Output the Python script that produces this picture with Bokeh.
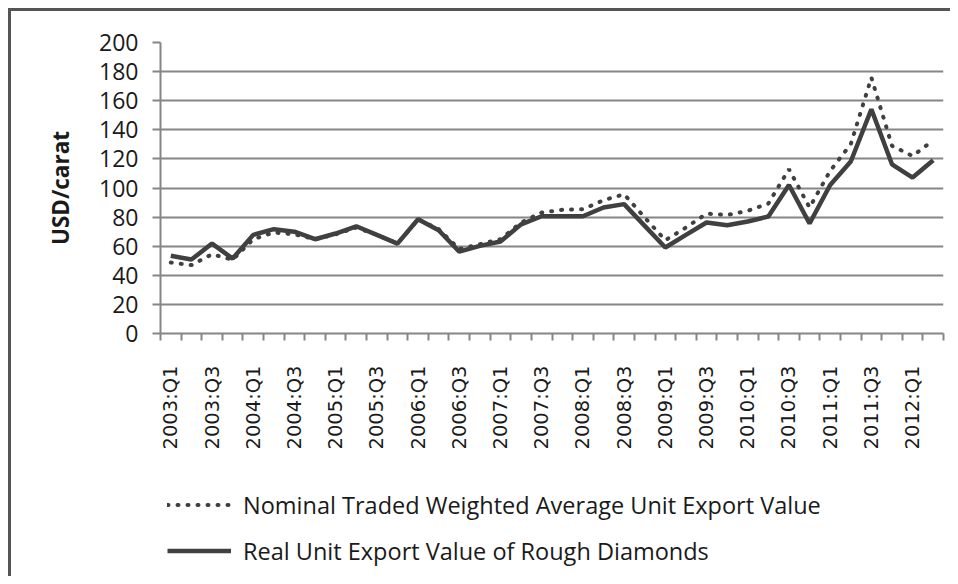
from bokeh.plotting import figure
from bokeh.layouts import column
from bokeh.models import Range1d, FixedTicker, Legend, LegendItem
from bokeh.embed import file_html
from bokeh.resources import INLINE

quarters = ["2003:Q1", "2003:Q2", "2003:Q3", "2003:Q4",
            "2004:Q1", "2004:Q2", "2004:Q3", "2004:Q4",
            "2005:Q1", "2005:Q2", "2005:Q3", "2005:Q4",
            "2006:Q1", "2006:Q2", "2006:Q3", "2006:Q4",
            "2007:Q1", "2007:Q2", "2007:Q3", "2007:Q4",
            "2008:Q1", "2008:Q2", "2008:Q3", "2008:Q4",
            "2009:Q1", "2009:Q2", "2009:Q3", "2009:Q4",
            "2010:Q1", "2010:Q2", "2010:Q3", "2010:Q4",
            "2011:Q1", "2011:Q2", "2011:Q3", "2011:Q4",
            "2012:Q1", "2012:Q2"]

nominal = [48.8, 47.0, 54.5, 50.6, 64.8, 69.4, 68.2, 64.8, 68.2, 72.8,
           67.8, 61.8, 78.5, 71.7, 58.0, 61.4, 64.8, 76.3, 83.1, 85.0,
           85.4, 91.6, 95.7, 79.7, 64.1, 72.8, 82.4, 81.5, 84.3, 89.3,
           112.9, 86.6, 111.8, 130.1, 175.9, 129.0, 122.0, 132.8]

real = [53.4, 50.8, 61.8, 51.5, 67.8, 71.7, 70.0, 64.8, 68.7, 73.7,
        67.8, 61.8, 78.5, 71.0, 56.3, 60.2, 63.2, 75.0, 80.6, 80.6,
        80.6, 86.6, 88.9, 74.0, 59.1, 67.8, 76.3, 74.4, 77.0, 80.4,
        102.1, 75.6, 102.1, 118.2, 154.1, 116.3, 107.2, 119.1]

series_names = ["Nominal Traded Weighted Average Unit Export Value",
                "Real Unit Export Value of Rough Diamonds"]

y_ticks = [0, 20, 40, 60, 80, 100, 120, 140, 160, 180, 200]

n = len(quarters)
xs = [i + 0.5 for i in range(n)]
label_pos = [i + 0.5 for i in range(0, n, 2)]
boundaries = list(range(n + 1))

GRID = "#868686"
LINE = "#404040"
TEXT = "#1a1a1a"

W = 939
H_TOP = 452
H_LEG = 113
LEFT = 149

p = figure(width=W, height=H_TOP, output_backend="svg", toolbar_location=None,
           x_range=Range1d(0, n), y_range=Range1d(0, 200),
           min_border_left=LEFT, min_border_right=7,
           min_border_top=31, min_border_bottom=130)
p.outline_line_color = None
p.background_fill_color = "white"
p.border_fill_color = "white"

# x axis
p.xaxis.ticker = FixedTicker(ticks=label_pos, minor_ticks=boundaries)
p.xaxis.major_label_overrides = {pos: quarters[i] for i, pos in zip(range(0, n, 2), label_pos)}
p.xaxis.major_tick_out = 0
p.xaxis.major_tick_in = 0
p.xaxis.minor_tick_out = 7
p.xaxis.minor_tick_in = 0
p.xaxis.minor_tick_line_color = GRID
p.xaxis.minor_tick_line_width = 2
p.xaxis.axis_line_color = GRID
p.xaxis.axis_line_width = 2
p.xaxis.major_label_orientation = 1.5707963
p.xaxis.major_label_text_font = "DejaVu Sans"
p.xaxis.major_label_text_font_size = "19.5px"
p.xaxis.major_label_text_color = TEXT
p.xaxis.major_label_standoff = 25
p.xgrid.visible = False

# y axis
p.yaxis.ticker = FixedTicker(ticks=y_ticks)
p.yaxis.minor_tick_line_color = None
p.yaxis.major_tick_out = 8
p.yaxis.major_tick_in = 0
p.yaxis.major_tick_line_color = GRID
p.yaxis.major_tick_line_width = 2
p.yaxis.axis_line_color = GRID
p.yaxis.axis_line_width = 2
p.yaxis.major_label_text_font = "Open Sans"
p.yaxis.major_label_text_font_size = "23px"
p.yaxis.major_label_text_color = TEXT
p.yaxis.major_label_standoff = 14
p.yaxis.axis_label = "USD/carat"
p.yaxis.axis_label_text_font = "Open Sans"
p.yaxis.axis_label_text_font_style = "bold"
p.yaxis.axis_label_text_font_size = "22.5px"
p.yaxis.axis_label_text_color = TEXT
p.yaxis.axis_label_standoff = 20
p.ygrid.ticker = FixedTicker(ticks=y_ticks)
p.ygrid.grid_line_color = GRID
p.ygrid.grid_line_width = 2

NOM_STYLE = dict(line_color=LINE, line_width=4, line_dash="1 9", line_cap="round")
REAL_STYLE = dict(line_color=LINE, line_width=4.5)

p.line(xs, nominal, **NOM_STYLE)
p.line(xs, real, **REAL_STYLE)

# legend panel below the chart (its frame is aligned with the chart's frame)
pl = figure(width=W, height=H_LEG, output_backend="svg", toolbar_location=None,
            x_range=Range1d(0, 1), y_range=Range1d(0, 1),
            x_axis_location=None, y_axis_location=None,
            min_border_left=LEFT, min_border_right=7, min_border_top=18, min_border_bottom=0)
pl.outline_line_color = None
pl.grid.visible = False
pl.background_fill_color = "white"
pl.border_fill_color = "white"
# single-point proxies (draw nothing) that carry the series styles for the legend
lr_nom = pl.line([-5], [-5], **NOM_STYLE)
lr_real = pl.line([-5], [-5], **REAL_STYLE)

legend = Legend(items=[
    LegendItem(label=series_names[0], renderers=[lr_nom]),
    LegendItem(label=series_names[1], renderers=[lr_real]),
], location="top_left", orientation="vertical")
legend.border_line_color = None
legend.background_fill_alpha = 0
legend.padding = 0
legend.margin = 7
legend.glyph_width = 64
legend.glyph_height = 33
legend.label_height = 33
legend.spacing = 13
legend.label_standoff = 12
legend.label_text_font = "Open Sans"
legend.label_text_font_size = "23.5px"
legend.label_text_color = TEXT
pl.add_layout(legend, "center")

layout = column(p, pl, spacing=0)
layout.styles = {"border-left": "3px solid #555555", "border-top": "3px solid #555555",
                 "margin-left": "8px", "margin-top": "8px"}

open("out.html", "w").write(file_html(layout, INLINE))
